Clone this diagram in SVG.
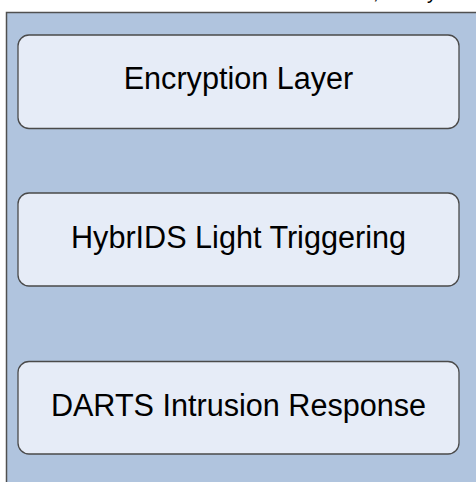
<svg xmlns="http://www.w3.org/2000/svg" width="476" height="482" viewBox="0 0 476 482">
  <style>
    .panel { fill: #b0c4de; stroke: #505050; stroke-width: 1.5; }
    .box { fill: #e6ecf7; stroke: #4a4a4a; stroke-width: 1.3; }
    .label { font-family: "Liberation Sans", Arial, sans-serif; font-size: 30.6px; fill: #000; text-anchor: middle; }
    .caption { font-family: "Liberation Sans", Arial, sans-serif; font-size: 20px; fill: #000; }
  </style>

  <rect width="476" height="482" fill="#ffffff"/>

  <!-- caption line above the panel, only its descenders fall inside the frame -->
  <text class="caption" x="373" y="-1">,</text>
  <text class="caption" x="427" y="-1">y</text>

  <!-- outer container panel running past the frame edges -->
  <rect id="panel" class="panel" x="6.5" y="12.5" width="480" height="480"/>

  <g id="encryption-layer">
    <rect class="box" x="18" y="35" width="441" height="93.5" rx="11" ry="11"/>
    <text class="label" x="238.5" y="89">Encryption Layer</text>
  </g>

  <g id="hybrids-light-triggering">
    <rect class="box" x="18" y="193" width="441" height="93" rx="11" ry="11"/>
    <text class="label" x="238.5" y="247.5">HybrIDS Light Triggering</text>
  </g>

  <g id="darts-intrusion-response">
    <rect class="box" x="18" y="361.5" width="441" height="92.5" rx="11" ry="11"/>
    <text class="label" x="238.5" y="416">DARTS Intrusion Response</text>
  </g>

  <g id="connectors"></g>
</svg>
